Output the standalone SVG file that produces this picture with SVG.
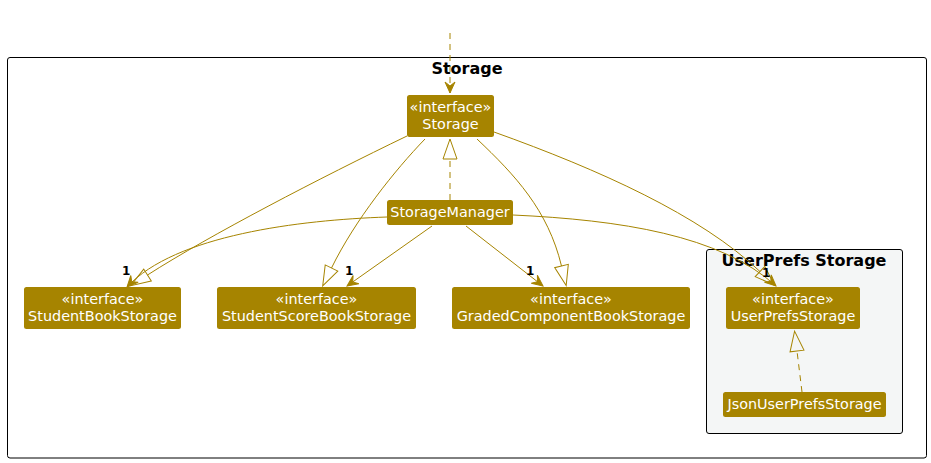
<svg xmlns="http://www.w3.org/2000/svg" width="931" height="463" viewBox="0 0 931 463">
<style>
.frame{fill:#FFFFFF;stroke:#000000;stroke-width:1}
.pkg{fill:#F4F6F6;stroke:#000000;stroke-width:1}
.title{font-family:"DejaVu Sans",sans-serif;font-size:16px;font-weight:bold;fill:#000000;text-anchor:middle}
.node rect{fill:#A68400;stroke:none}
.node text{font-family:"DejaVu Sans",sans-serif;font-size:14.4px;fill:#FFFFFF;text-anchor:middle}
.edge{fill:none;stroke:#A68400;stroke-width:1}
.dash{stroke-dasharray:6,5}
.mult{font-family:"DejaVu Sans",sans-serif;font-size:12px;font-weight:bold;fill:#000000}
</style>
<defs>
<marker id="vee" markerUnits="userSpaceOnUse" markerWidth="14" markerHeight="12" viewBox="-12 -6 14 12" refX="0" refY="0" orient="auto">
<path d="M0,0 L-11,-5 L-7,0 L-11,5 Z" fill="#A68400" stroke="#A68400" stroke-width="1"/>
</marker>
<marker id="tri" markerUnits="userSpaceOnUse" markerWidth="24" markerHeight="18" viewBox="-1 -9 24 18" refX="0" refY="0" orient="auto">
<path d="M0,-7 L20,0 L0,7 Z" fill="none" stroke="#A68400" stroke-width="1"/>
</marker>
</defs>
<rect width="931" height="463" fill="#FFFFFF"/>
<g id="storage-frame">
<rect class="frame" x="7.5" y="57.5" width="919" height="400.5" rx="2.5"/>
<text class="title" x="467" y="74">Storage</text>
</g>
<g id="userprefs-package">
<rect class="pkg" x="706.5" y="249.5" width="196" height="184" rx="2.5"/>
<text class="title" x="804" y="266">UserPrefs Storage</text>
</g>
<g id="connectors">
<path class="edge dash" d="M450,33 L450,93" marker-end="url(#vee)"/>
<path class="edge dash" d="M450,200 L450,159" marker-end="url(#tri)"/>
<path class="edge dash" d="M802,392 L797,351" marker-end="url(#tri)"/>
<path class="edge" d="M407,136 C 320,178 210,235 147.5,275" marker-end="url(#tri)"/>
<path class="edge" d="M425,139 C 395,170 355,220 331.5,268" marker-end="url(#tri)"/>
<path class="edge" d="M477,139 C 515,175 548,210 561.5,266" marker-end="url(#tri)"/>
<path class="edge" d="M494,132 C 600,170 700,215 760,271.5" marker-end="url(#tri)"/>
<path class="edge" d="M387,217 C 300,220 175,235 127,287" marker-end="url(#vee)"/>
<path class="edge" d="M432,226 L347,286" marker-end="url(#vee)"/>
<path class="edge" d="M466,226 L543,286" marker-end="url(#vee)"/>
<path class="edge" d="M513,215 C 620,220 720,235 776,286" marker-end="url(#vee)"/>
<text class="mult" x="122" y="275">1</text>
<text class="mult" x="345" y="275">1</text>
<text class="mult" x="526" y="275">1</text>
<text class="mult" x="762" y="277">1</text>
</g>
<g id="Storage" class="node">
<rect x="407" y="95" width="87" height="42" rx="2.5"/>
<text x="450.5" y="112">«interface»</text>
<text x="450.5" y="129">Storage</text>
</g>
<g id="StorageManager" class="node">
<rect x="387" y="200" width="126" height="25" rx="2.5"/>
<text x="450" y="217">StorageManager</text>
</g>
<g id="StudentBookStorage" class="node">
<rect x="24" y="287" width="157" height="42" rx="2.5"/>
<text x="102.5" y="304">«interface»</text>
<text x="102.5" y="321">StudentBookStorage</text>
</g>
<g id="StudentScoreBookStorage" class="node">
<rect x="217" y="287" width="199" height="42" rx="2.5"/>
<text x="316.5" y="304">«interface»</text>
<text x="316.5" y="321">StudentScoreBookStorage</text>
</g>
<g id="GradedComponentBookStorage" class="node">
<rect x="452" y="287" width="238" height="42" rx="2.5"/>
<text x="571" y="304">«interface»</text>
<text x="571" y="321">GradedComponentBookStorage</text>
</g>
<g id="UserPrefsStorage" class="node">
<rect x="726" y="287" width="134" height="42" rx="2.5"/>
<text x="793" y="304">«interface»</text>
<text x="793" y="321">UserPrefsStorage</text>
</g>
<g id="JsonUserPrefsStorage" class="node">
<rect x="723" y="392" width="163" height="25" rx="2.5"/>
<text x="804.5" y="409">JsonUserPrefsStorage</text>
</g>
</svg>
